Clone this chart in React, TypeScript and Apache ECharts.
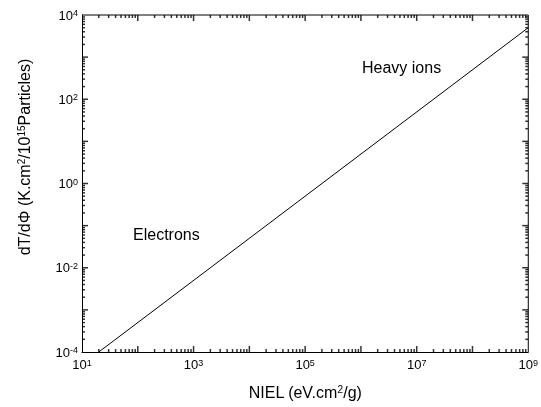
import React, { useEffect, useRef } from "react";
import * as echarts from "echarts";

// Data: straight line on log-log axes
const nielValues = [20, 1e9];
const dTdPhiValues = [1e-4, 5e3];

const xMin = 10;
const xMax = 1e9;
const yMin = 1e-4;
const yMax = 1e4;

const xTitle = "NIEL (eV.cm{s|2}/g)";
const yTitle = "dT/dΦ (K.cm{s|2}/10{s|15}Particles)";
const annotations = ["Electrons", "Heavy ions"];

function decadeTicks(minExp: number, maxExp: number) {
  const major: number[] = [];
  const minor: number[] = [];
  for (let e = minExp; e <= maxExp; e++) {
    if (e > minExp && e < maxExp) major.push(Math.pow(10, e));
    if (e < maxExp) {
      for (let m = 2; m <= 9; m++) minor.push(m * Math.pow(10, e));
    }
  }
  return { major, minor };
}

const xTicks = decadeTicks(1, 9);
const yTicks = decadeTicks(-4, 4);

const FONT = "Liberation Sans, Arial, Helvetica, sans-serif";
const MAJOR = 6;
const MINOR = 3;
const TW = 1.5;

export default function App() {
  const ref = useRef<HTMLDivElement>(null);
  useEffect(() => {
    if (!ref.current) return;
    const chart = echarts.init(ref.current, undefined, { renderer: "svg" });
    const labelFmt = (keepOdd: boolean) => (v: number) => {
      const e = Math.round(Math.log10(v));
      const odd = Math.abs(e) % 2 === 1;
      if (odd !== keepOdd) return "";
      return `{b|10}{s|${e}}`;
    };
    const richLabel = {
      b: { fontSize: 13, fontFamily: FONT, color: "#000" },
      s: { fontSize: 9, fontFamily: FONT, color: "#000", verticalAlign: "top" },
    };

    const xItems: any[] = [];
    const pushX = (v: number, len: number) => {
      xItems.push({ value: [v, yMin], symbolSize: [TW, len], symbolOffset: [0, -len / 2] });
      xItems.push({ value: [v, yMax], symbolSize: [TW, len], symbolOffset: [0, len / 2] });
    };
    xTicks.major.forEach((v) => pushX(v, MAJOR));
    xTicks.minor.forEach((v) => pushX(v, MINOR));

    const yItems: any[] = [];
    const pushY = (v: number, len: number) => {
      yItems.push({ value: [xMin, v], symbolSize: [len, TW], symbolOffset: [len / 2, 0] });
      yItems.push({ value: [xMax, v], symbolSize: [len, TW], symbolOffset: [-len / 2, 0] });
    };
    yTicks.major.forEach((v) => pushY(v, MAJOR));
    yTicks.minor.forEach((v) => pushY(v, MINOR));

    chart.setOption({
      animation: false,
      grid: { left: 82, right: 6, top: 15, bottom: 55 },
      xAxis: {
        type: "log",
        logBase: 10,
        min: xMin,
        max: xMax,
        splitNumber: 8,
        name: xTitle,
        nameLocation: "middle",
        nameGap: 32,
        nameTextStyle: {
          fontSize: 16,
          fontFamily: FONT,
          color: "#000",
          rich: { s: { fontSize: 10, verticalAlign: "top", fontFamily: FONT, color: "#000" } },
        },
        axisLine: { show: true, onZero: false, lineStyle: { color: "#000", width: 1 } },
        axisTick: { show: false },
        splitLine: { show: false },
        axisLabel: {
          margin: 6,
          formatter: labelFmt(true),
          rich: richLabel,
          showMinLabel: true,
          showMaxLabel: true,
          hideOverlap: false,
        },
      },
      yAxis: {
        type: "log",
        logBase: 10,
        min: yMin,
        max: yMax,
        splitNumber: 8,
        axisLine: { show: true, onZero: false, lineStyle: { color: "#000", width: 1 } },
        axisTick: { show: false },
        splitLine: { show: false },
        axisLabel: {
          margin: 4,
          formatter: labelFmt(false),
          rich: richLabel,
          showMinLabel: true,
          showMaxLabel: true,
          hideOverlap: false,
        },
      },
      graphic: [
        {
          type: "text",
          x: 24,
          y: 157,
          rotation: Math.PI / 2,
          style: {
            text: yTitle,
            fontSize: 16,
            fontFamily: FONT,
            fill: "#000",
            align: "center",
            verticalAlign: "middle",
            rich: { s: { fontSize: 10, verticalAlign: "top", fontFamily: FONT, fill: "#000" } },
          },
        },
        {
          type: "text",
          x: 133,
          y: 234,
          style: { text: annotations[0], fontSize: 16, fontFamily: FONT, fill: "#000", align: "left", verticalAlign: "middle" },
        },
        {
          type: "text",
          x: 362,
          y: 67,
          style: { text: annotations[1], fontSize: 16, fontFamily: FONT, fill: "#000", align: "left", verticalAlign: "middle" },
        },
      ],
      series: [
        {
          type: "line",
          data: nielValues.map((x, i) => [x, dTdPhiValues[i]]),
          showSymbol: false,
          symbol: "none",
          lineStyle: { color: "#000", width: 1 },
          silent: true,
        },
        {
          // top and right edges of the frame
          type: "line",
          data: [[xMin, yMax], [xMax, yMax], [xMax, yMin]],
          showSymbol: false,
          symbol: "none",
          clip: false,
          lineStyle: { color: "#000", width: 1 },
          silent: true,
        },
        {
          type: "scatter",
          symbol: "rect",
          data: xItems,
          itemStyle: { color: "#000" },
          silent: true,
        },
        {
          type: "scatter",
          symbol: "rect",
          data: yItems,
          itemStyle: { color: "#000" },
          silent: true,
        },
      ],
    });
    return () => chart.dispose();
  }, []);
  return <div ref={ref} style={{ position: "fixed", left: 0, top: 0, width: 541, height: 407 }} />;
}
